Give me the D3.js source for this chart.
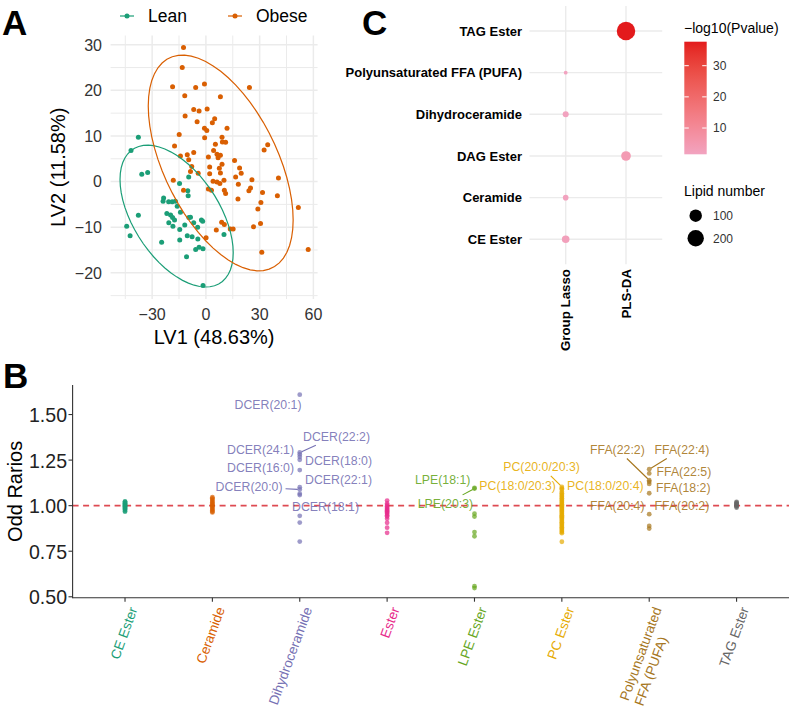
<!DOCTYPE html>
<html><head><meta charset="utf-8">
<script src="https://cdn.jsdelivr.net/npm/d3@7"></script>
<style>
body{margin:0;background:#fff;}
svg{font-family:"Liberation Sans",Arial,Helvetica,sans-serif;}
</style></head><body>
<svg id="fig" width="790" height="708"></svg>
<script>
// ================= DATA =================
// Panel A: PLS-DA scores
const groupNames = ["Lean", "Obese"];
const leanPoints = [
 [-37.7,9.7],[-41.8,6.8],[-35.8,1.6],[-32.5,2.0],[-9.6,1.0],[-14.7,-0.4],[-10.1,-2.0],[-9.9,-3.1],
 [-23.6,-3.6],[-23.9,-4.3],[-20.8,-4.4],[-18.8,-4.4],[-17.0,-4.3],[-16.0,-5.4],[-14.2,-6.7],
 [-21.8,-7.0],[-19.7,-7.3],[-18.6,-7.9],[-17.5,-8.4],[-20.7,-9.0],[-18.4,-9.8],[-9.5,-7.9],[-8.6,-7.8],
 [-6.8,-9.0],[-4.6,-10.0],[-2.5,-8.4],[-1.8,-8.7],[-14.6,-10.5],[-11.8,-9.5],[-10.4,-11.9],[-7.7,-12.1],
 [-14.6,-12.8],[-4.5,-12.6],[-5.7,-14.9],[-3.8,-14.4],[-1.6,-14.7],[-10.8,-16.5],[-1.6,-22.8],
 [-44.2,-9.8],[-42.3,-11.9],[-37.7,-7.4],[-24.7,-13.3],[10.1,-11.6]
];
const obesePoints = [
 [-12.5,29.4],[-13.2,25.0],[-18.6,20.8],[-11.8,18.8],[-5.7,20.6],[-0.8,21.4],[24.3,20.6],[8.1,18.6],
 [-6.8,15.8],[-3.8,15.5],[0.7,15.9],[-11.6,14.4],[-4.9,13.1],[3.6,12.9],[4.9,13.8],[11.8,11.7],
 [-0.8,11.7],[0.5,11.2],[-14.9,10.3],[-0.7,9.6],[9.0,9.7],[9.2,8.7],[11.0,8.6],[5.3,8.2],[-17.5,7.8],
 [34.5,8.1],[32.5,6.9],[-6.8,6.4],[4.3,6.8],[6.2,6.0],[-10.4,5.9],[-14.2,5.6],[1.4,5.4],[8.1,5.8],
 [6.8,5.2],[-9.6,4.8],[16.0,4.6],[9.0,3.8],[7.5,2.9],[2.1,3.2],[18.8,3.0],[-7.9,3.3],[-8.6,2.2],
 [19.7,1.8],[2.1,1.7],[8.1,1.9],[16.6,1.0],[40.5,0.8],[-4.3,1.8],[-18.2,0.3],[4.0,0.1],[6.2,-0.1],
 [7.8,-0.4],[10.1,0.3],[25.7,0.4],[18.1,-0.6],[1.4,-1.6],[3.1,-1.9],[10.3,-1.9],[11.0,-2.6],
 [24.9,-1.4],[24.0,-2.0],[-12.5,-1.9],[31.6,-2.4],[39.9,-3.1],[17.9,-3.8],[30.7,-4.6],[51.6,-5.7],
 [29.0,-6.0],[8.8,-8.9],[10.3,-9.4],[26.6,-9.9],[30.5,-9.2],[5.8,-10.6],[13.6,-10.4],[15.2,-10.4],
 [0.1,-12.3],[57.1,-14.9],[31.2,-15.5]
];
const axisTitlesA = ["LV1 (48.63%)", "LV2 (11.58%)"];
const xTicksA = [-30, 0, 30, 60];
const yTicksA = [-20, -10, 0, 10, 20, 30];

// Panel B: odds ratios per lipid class
const classNames = ["CE Ester","Ceramide","Dihydroceramide","Ester","LPE Ester","PC Ester","Polyunsaturated\nFFA (PUFA)","TAG Ester"];
const oddCE = [0.967,0.971,0.978,0.982,0.985,0.990,0.993,0.996,0.998,1.001,1.004,1.007,1.010,1.013,1.017,1.020,1.024];
const oddCeramide = [0.963,0.968,0.975,0.981,0.988,0.995,1.000,1.006,1.012,1.019,1.026,1.033,1.040,1.046];
const oddDihydro = [1.609,1.292,1.281,1.268,1.252,1.195,1.101,1.089,1.066,1.058,0.944,0.907,0.803];
const oddEster = [1.028,1.012,1.003,0.995,0.988,0.981,0.975,0.969,0.962,0.956,0.948,0.940,0.928,0.906,0.879,0.851];
const oddLPE = [1.097,1.094,0.956,0.940,0.855,0.832,0.558,0.548];
const oddPC = [1.103,1.095,1.088,1.076,1.068,1.060,1.053,1.047,1.040,1.033,1.027,1.020,1.014,1.008,1.002,0.996,
 0.990,0.984,0.978,0.972,0.966,0.960,0.954,0.948,0.942,0.936,0.930,0.923,0.916,0.909,0.902,0.895,0.889,0.882,
 0.875,0.868,0.861,0.855,0.849,0.802];
const oddPUFA = [1.200,1.177,1.140,1.131,1.119,1.068,0.953,0.889,0.874];
const oddTAG = [0.990,0.995,1.000,1.004,1.008,1.012,1.016,1.020];
const oddByClass = [oddCE, oddCeramide, oddDihydro, oddEster, oddLPE, oddPC, oddPUFA, oddTAG];
const yTicksB = [0.50, 0.75, 1.00, 1.25, 1.50];

const labelNames = ["DCER(20:1)","DCER(22:2)","DCER(24:1)","DCER(18:0)","DCER(16:0)","DCER(22:1)","DCER(20:0)","DCER(18:1)",
 "LPE(18:1)","LPE(20:3)","PC(20:0/20:3)","PC(18:0/20:3)","PC(18:0/20:4)",
 "FFA(22:2)","FFA(22:4)","FFA(22:5)","FFA(18:2)","FFA(20:4)","FFA(20:2)"];
const labelClass = [2,2,2,2,2,2,2,2,4,4,5,5,5,6,6,6,6,6,6];
const labelValue = [1.609,1.292,1.281,1.252,1.195,1.101,1.089,1.058,1.097,1.094,1.103,1.095,1.088,1.140,1.200,1.177,1.119,1.068,0.953];

// Panel C: enrichment
const enrichClasses = ["CE Ester","Ceramide","DAG Ester","Dihydroceramide","Polyunsaturated FFA (PUFA)","TAG Ester"];
const methodNames = ["Group Lasso","PLS-DA"];
const enrichMethod = ["Group Lasso","Group Lasso","PLS-DA","Group Lasso","Group Lasso","PLS-DA"];
const lipidNumber = [25, 12, 50, 14, 8, 270];
const negLog10P = [2.6, 1.9, 4.2, 1.7, 1.57, 37.7];
const colorBreaks = [10, 20, 30];
const sizeBreaks = [100, 200];

// ================= LAYOUT (label placement offsets in px, ggrepel-like) =================
const labelNudge = {
 "DCER(20:1)":[-31.7,9.7],"DCER(22:2)":[36.8,-16.3],"DCER(24:1)":[-39.2,-5.3],"DCER(18:0)":[38.8,1.1],
 "DCER(16:0)":[-39.2,-2.7],"DCER(22:1)":[38.8,-7.2],"DCER(20:0)":[-50.7,-2.7],"DCER(18:1)":[25.8,11.6],
 "LPE(18:1)":[-31.8,-8],"LPE(20:3)":[-29,15.5],
 "PC(20:0/20:3)":[-20.3,-20.2],"PC(18:0/20:3)":[-44.2,-2.6],"PC(18:0/20:4)":[43.5,-3.9],
 "FFA(22:2)":[-31.8,-30.8],"FFA(22:4)":[32.7,-19.8],"FFA(22:5)":[34.7,-1.6],"FFA(18:2)":[34,3.8],
 "FFA(20:4)":[-32,12.4],"FFA(20:2)":[32.7,-8.6]
};
const labelSegment = ["DCER(22:2)","DCER(20:0)","LPE(20:3)","PC(20:0/20:3)","FFA(22:2)","FFA(22:4)"];

// ================= DRAW =================
const svg = d3.select("#fig");
const dark2 = d3.schemeDark2;
const groupColor = [dark2[0], dark2[1]];
const GRID = "#EBEBEB";

function expand(e, m = 0.05) { const r = e[1] - e[0]; return [e[0] - m * r, e[1] + m * r]; }
function qf2(p, d2) { return d2 / 2 * (Math.pow(1 - p, -2 / d2) - 1); }
function ellipseOf(pts, level = 0.95, seg = 60) {
  const n = pts.length;
  const mx = d3.mean(pts, d => d[0]), my = d3.mean(pts, d => d[1]);
  let sxx = 0, syy = 0, sxy = 0;
  pts.forEach(([x, y]) => { sxx += (x - mx) ** 2; syy += (y - my) ** 2; sxy += (x - mx) * (y - my); });
  sxx /= (n - 1); syy /= (n - 1); sxy /= (n - 1);
  const r = Math.sqrt(2 * qf2(level, n - 1));
  const u11 = Math.sqrt(sxx), u12 = sxy / u11, u22 = Math.sqrt(syy - u12 * u12);
  return d3.range(seg + 1).map(i => {
    const t = 2 * Math.PI * i / seg, c = Math.cos(t), s = Math.sin(t);
    return [mx + r * c * u11, my + r * (c * u12 + s * u22)];
  });
}

// ---------- Panel A ----------
{
  const g = svg.append("g");
  const groups = [leanPoints, obesePoints];
  const ells = groups.map(p => ellipseOf(p));
  const all = leanPoints.concat(obesePoints, ells[0], ells[1]);
  const x = d3.scaleLinear().domain(expand(d3.extent(all, d => d[0]))).range([110.6, 317.6]);
  const y = d3.scaleLinear().domain(expand(d3.extent(all, d => d[1]))).range([299, 35.5]);
  const [x0, x1] = x.range(), [y1, y0] = y.range();
  const xd = x.domain(), yd = y.domain();
  const xMinor = xTicksA.slice(0, -1).map((v, i) => (v + xTicksA[i + 1]) / 2).concat([xTicksA[0] - 15, xTicksA[xTicksA.length-1] + 15]).filter(v => v > xd[0] && v < xd[1]);
  const yMinor = yTicksA.slice(0, -1).map((v, i) => (v + yTicksA[i + 1]) / 2).concat([yTicksA[0] - 5, yTicksA[yTicksA.length-1] + 5]).filter(v => v > yd[0] && v < yd[1]);
  g.selectAll(".vmin").data(xMinor).join("line").attr("x1", d => x(d)).attr("x2", d => x(d)).attr("y1", y0).attr("y2", y1).attr("stroke", GRID).attr("stroke-width", 1.0);
  g.selectAll(".hmin").data(yMinor).join("line").attr("y1", d => y(d)).attr("y2", d => y(d)).attr("x1", x0).attr("x2", x1).attr("stroke", GRID).attr("stroke-width", 1.0);
  g.selectAll(".vmaj").data(xTicksA).join("line").attr("x1", d => x(d)).attr("x2", d => x(d)).attr("y1", y0).attr("y2", y1).attr("stroke", GRID).attr("stroke-width", 1.5);
  g.selectAll(".hmaj").data(yTicksA).join("line").attr("y1", d => y(d)).attr("y2", d => y(d)).attr("x1", x0).attr("x2", x1).attr("stroke", GRID).attr("stroke-width", 1.5);

  groups.forEach((pts, gi) => {
    g.append("g").selectAll("circle").data(pts).join("circle")
      .attr("cx", d => x(d[0])).attr("cy", d => y(d[1])).attr("r", 2.5).attr("fill", groupColor[gi]);
  });
  const line = d3.line().x(d => x(d[0])).y(d => y(d[1]));
  ells.forEach((e, gi) => g.append("path").attr("d", line(e)).attr("fill", "none").attr("stroke", groupColor[gi]).attr("stroke-width", 1.2));

  const fmt = d3.format("");
  g.selectAll(".xt").data(xTicksA).join("text").attr("x", d => x(d)).attr("y", 320).attr("text-anchor", "middle")
    .attr("font-size", 16).attr("fill", "#333").text(d => fmt(d));
  g.selectAll(".yt").data(yTicksA).join("text").attr("x", 102).attr("y", d => y(d)).attr("dy", "0.36em").attr("text-anchor", "end")
    .attr("font-size", 16).attr("fill", "#333").text(d => fmt(d));
  g.append("text").attr("x", (x0 + x1) / 2).attr("y", 344).attr("text-anchor", "middle").attr("font-size", 20).text(axisTitlesA[0]);
  g.append("text").attr("transform", `translate(65,${(y0 + y1) / 2}) rotate(-90)`).attr("text-anchor", "middle").attr("font-size", 20).text(axisTitlesA[1]);

  // legend
  const legX = [120, 228];
  groupNames.forEach((nm, gi) => {
    g.append("line").attr("x1", legX[gi]).attr("x2", legX[gi] + 14).attr("y1", 16).attr("y2", 16).attr("stroke", groupColor[gi]).attr("stroke-width", 1.2);
    g.append("circle").attr("cx", legX[gi] + 7).attr("cy", 16).attr("r", 2.5).attr("fill", groupColor[gi]);
    g.append("text").attr("x", legX[gi] + 28).attr("y", 16).attr("dy", "0.36em").attr("font-size", 17.5).text(nm);
  });
  g.append("text").attr("x", 2).attr("y", 35).attr("font-size", 35).attr("font-weight", "bold").text("A");
}

// ---------- Panel B ----------
{
  const g = svg.append("g");
  const x = d3.scalePoint().domain(classNames).range([72.6, 789]).padding(0.6);
  const all = oddByClass.flat();
  const y = d3.scaleLinear().domain(expand(d3.extent(all))).range([597.7, 385]);
  const [yb, yt] = y.range();

  g.append("line").attr("x1", 72.6).attr("x2", 789).attr("y1", y(1)).attr("y2", y(1))
    .attr("stroke", "#DE4A52").attr("stroke-width", 1.6).attr("stroke-dasharray", "6,4.5");

  oddByClass.forEach((vals, ci) => {
    g.append("g").selectAll("circle").data(vals).join("circle")
      .attr("cx", x(classNames[ci])).attr("cy", d => y(d)).attr("r", 2.4)
      .attr("fill", dark2[ci]).attr("fill-opacity", 0.7);
  });

  const FS = 12.3;
  labelNames.forEach((nm, i) => {
    const ci = labelClass[i];
    const px = x(classNames[ci]), py = y(labelValue[i]);
    const [dx, dy] = labelNudge[nm];
    const cx = px + dx, cy = py + dy;
    const t = g.append("text").attr("x", cx).attr("y", cy).attr("dy", "0.36em").attr("text-anchor", "middle")
      .attr("font-size", FS).attr("fill", dark2[ci]).attr("fill-opacity", 0.9).text(nm);
    if (labelSegment.includes(nm)) {
      const w = t.node().getComputedTextLength();
      const hw = w / 2 + 3, hh = FS / 2 + 3;
      const vx = px - cx, vy = py - cy;
      const s = Math.max(Math.abs(vx) / hw, Math.abs(vy) / hh);
      const ex = cx + vx / s, ey = cy + vy / s;
      const L = Math.hypot(px - ex, py - ey);
      g.insert("line", "text").attr("x1", px + (ex - px) / L * 2).attr("y1", py + (ey - py) / L * 2)
        .attr("x2", ex).attr("y2", ey).attr("stroke", dark2[ci]).attr("stroke-width", 1.1);
    }
  });

  // axes
  g.append("line").attr("x1", 72.6).attr("x2", 72.6).attr("y1", yt).attr("y2", yb + 0.5).attr("stroke", "#333").attr("stroke-width", 1.1);
  g.append("line").attr("x1", 72.6).attr("x2", 789).attr("y1", yb).attr("y2", yb).attr("stroke", "#333").attr("stroke-width", 1.1);
  g.selectAll(".yt").data(yTicksB).join("line").attr("x1", 68.5).attr("x2", 72.6).attr("y1", d => y(d)).attr("y2", d => y(d)).attr("stroke", "#333").attr("stroke-width", 1.1);
  g.selectAll(".ytl").data(yTicksB).join("text").attr("x", 67).attr("y", d => y(d)).attr("dy", "0.36em").attr("text-anchor", "end")
    .attr("font-size", 21).attr("textLength", 38).attr("lengthAdjust", "spacingAndGlyphs").attr("fill", "#222").text(d => d3.format(".2f")(d));
  g.selectAll(".xtk").data(classNames).join("line").attr("x1", d => x(d)).attr("x2", d => x(d)).attr("y1", yb).attr("y2", yb + 4).attr("stroke", "#333").attr("stroke-width", 1.1);
  const XFS = 13.6;
  classNames.forEach((nm, ci) => {
    const lines = nm.split("\n");
    const t = g.append("text").attr("transform", `translate(${x(nm) + 3},${yb + 8}) rotate(-70)`)
      .attr("font-size", XFS).attr("fill", dark2[ci]);
    const spans = lines.map((ln, li) => t.append("tspan").attr("x", 0).attr("y", 0).attr("dy", (0.75 + li * 1.15) + "em").text(ln));
    const maxW = d3.max(spans, s => s.node().getComputedTextLength());
    spans.forEach(s => s.attr("x", -maxW));
  });
  g.append("text").attr("transform", `translate(22,${(yb + yt) / 2}) rotate(-90)`).attr("text-anchor", "middle").attr("font-size", 20).text("Odd Rarios");
  g.append("text").attr("x", 3).attr("y", 388).attr("font-size", 35).attr("font-weight", "bold").text("B");
}

// ---------- Panel C ----------
{
  const g = svg.append("g");
  const x = d3.scalePoint().domain(methodNames).range([529.5, 662.2]).padding(0.6);
  const y = d3.scalePoint().domain(enrichClasses).range([264.3, 6]).padding(0.6);
  g.selectAll(".hg").data(enrichClasses).join("line").attr("x1", 529.5).attr("x2", 662.2).attr("y1", d => y(d)).attr("y2", d => y(d)).attr("stroke", GRID).attr("stroke-width", 1.4);
  g.selectAll(".vg").data(methodNames).join("line").attr("x1", d => x(d)).attr("x2", d => x(d)).attr("y1", 6).attr("y2", 264.3).attr("stroke", GRID).attr("stroke-width", 1.4);

  const nMin = d3.min(lipidNumber), nMax = d3.max(lipidNumber);
  const dMin = 3.8, dMax = 18.5;
  const rescale = d3.scaleLinear().domain([nMin, nMax]).range([0, 1]);
  const diam = d3.scaleLinear().domain([0, 1]).range([dMin, dMax]);
  const radius = n => diam(Math.sqrt(Math.max(0, rescale(n)))) / 2;
  const pExt = d3.extent(negLog10P);
  const color = d3.scaleLinear().domain(pExt).range(["#F2A3C0", "#E31A1C"]).interpolate(d3.interpolateLab);

  g.selectAll(".dot").data(d3.range(enrichClasses.length)).join("circle")
    .attr("cx", i => x(enrichMethod[i])).attr("cy", i => y(enrichClasses[i])).attr("r", i => radius(lipidNumber[i]))
    .attr("fill", i => color(negLog10P[i]));

  g.selectAll(".rl").data(enrichClasses).join("text").attr("x", 522).attr("y", d => y(d)).attr("dy", "0.36em").attr("text-anchor", "end")
    .attr("font-size", 13).attr("font-weight", "bold").text(d => d);
  g.selectAll(".cl").data(methodNames).join("text").attr("transform", d => `translate(${x(d)},269) rotate(-90)`)
    .attr("dy", "0.36em").attr("text-anchor", "end").attr("font-size", 13.3).attr("font-weight", "bold").text(d => d);

  // colour legend
  const barX = 684.3, barW = 22.4, barTop = 41.7, barBot = 154.3;
  const by = d3.scaleLinear().domain(pExt).range([barBot, barTop]);
  const grad = svg.append("defs").append("linearGradient").attr("id", "pgrad").attr("x1", 0).attr("x2", 0).attr("y1", 1).attr("y2", 0);
  d3.range(0, 1.0001, 0.05).forEach(f => grad.append("stop").attr("offset", f).attr("stop-color", color(pExt[0] + f * (pExt[1] - pExt[0]))));
  g.append("rect").attr("x", barX).attr("y", barTop).attr("width", barW).attr("height", barBot - barTop).attr("fill", "url(#pgrad)");
  colorBreaks.forEach(v => {
    g.append("line").attr("x1", barX).attr("x2", barX + 4.5).attr("y1", by(v)).attr("y2", by(v)).attr("stroke", "#fff").attr("stroke-width", 1);
    g.append("line").attr("x1", barX + barW - 4.5).attr("x2", barX + barW).attr("y1", by(v)).attr("y2", by(v)).attr("stroke", "#fff").attr("stroke-width", 1);
    g.append("text").attr("x", 713).attr("y", by(v)).attr("dy", "0.36em").attr("font-size", 12).attr("fill", "#333").text(v);
  });
  g.append("text").attr("x", 684).attr("y", 33).attr("font-size", 14).text("\u2212log10(Pvalue)");
  g.append("text").attr("x", 684).attr("y", 196).attr("font-size", 14).text("Lipid number");
  sizeBreaks.forEach((v, i) => {
    const cy = 215.7 + i * 22.6;
    g.append("circle").attr("cx", 695.7).attr("cy", cy).attr("r", radius(v)).attr("fill", "#000");
    g.append("text").attr("x", 713).attr("y", cy).attr("dy", "0.36em").attr("font-size", 12).attr("fill", "#333").text(v);
  });
  g.append("text").attr("x", 362).attr("y", 35).attr("font-size", 35).attr("font-weight", "bold").text("C");
}
</script>
</body></html>
